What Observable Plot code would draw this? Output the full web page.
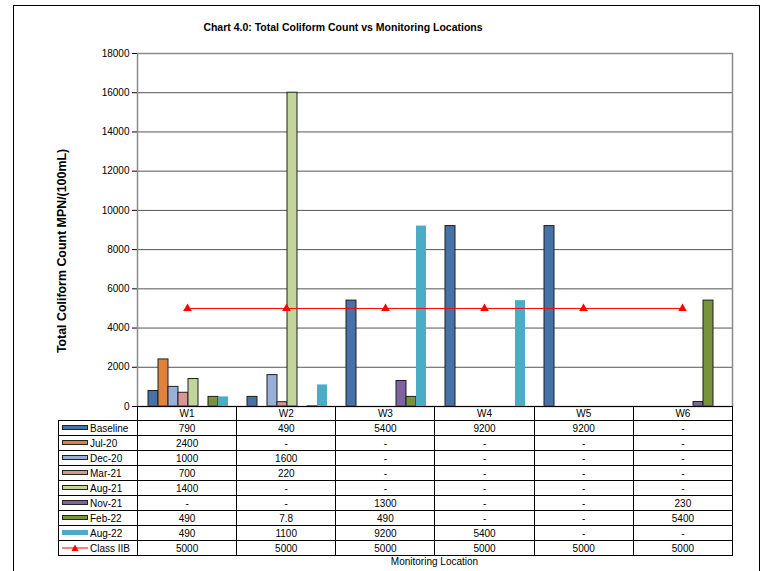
<!DOCTYPE html>
<html><head><meta charset="utf-8">
<script src="https://cdn.jsdelivr.net/npm/d3@7"></script>
<script src="https://cdn.jsdelivr.net/npm/@observablehq/plot@0.6"></script>
<style>
body{margin:0;background:#fff;font-family:"Liberation Sans",Arial,sans-serif;}
#wrap{position:relative;width:768px;height:571px;overflow:hidden;background:#fff;}
#border{position:absolute;left:13px;top:5px;width:747px;height:600px;border:1px solid #000;box-sizing:border-box;}
.layer{position:absolute;left:0;top:0;}
#title{position:absolute;left:0;width:686px;top:21px;text-align:center;font-weight:bold;font-size:10.5px;color:#000;}
#ylabel{position:absolute;left:62px;top:251px;transform:translate(-50%,-50%) rotate(-90deg);white-space:nowrap;font-weight:bold;font-size:12.4px;color:#000;}
#xlabel{position:absolute;left:137px;width:595px;top:556px;text-align:center;font-size:10px;color:#000;}
#tbl{position:absolute;left:58px;top:406px;border-collapse:collapse;table-layout:fixed;width:675px;font-size:10px;color:#000;}
#tbl td{border:1px solid #000;padding:0;text-align:center;height:14px;line-height:13px;white-space:nowrap;overflow:hidden;}
#tbl tr.hdr td{height:13px;}
#tbl tr.hdr td.blank{border:none;}
#tbl td.leg{text-align:left;padding-left:3px;}
.sw{display:inline-block;width:24px;height:3px;border:1px solid #222;vertical-align:middle;margin-right:2px;position:relative;top:-1px;}
</style></head><body>
<div id="wrap">
  <div id="border"></div>
  <div id="title">Chart 4.0: Total Coliform Count vs Monitoring Locations</div>
  <div id="ylabel">Total Coliform Count MPN/(100mL)</div>
  <div id="xlabel">Monitoring Location</div>
</div>
<script>
const locations = ["W1","W2","W3","W4","W5","W6"];
const seriesNames = ["Baseline","Jul-20","Dec-20","Mar-21","Aug-21","Nov-21","Feb-22","Aug-22"];
const baseline = [790, 490, 5400, 9200, 9200, null];
const jul20    = [2400, null, null, null, null, null];
const dec20    = [1000, 1600, null, null, null, null];
const mar21    = [700, 220, null, null, null, null];
const aug21    = [1400, 16000, null, null, null, null];
const nov21    = [null, null, 1300, null, null, 230];
const feb22    = [490, 7.8, 490, null, null, 5400];
const aug22    = [490, 1100, 9200, 5400, null, null];
const classIIB = [5000, 5000, 5000, 5000, 5000, 5000];
const classLabel = "Class IIB";
const yTicks = [0, 2000, 4000, 6000, 8000, 10000, 12000, 14000, 16000, 18000];
// table cells printed as "-" in the reference even though a bar is drawn
const tableDashCells = [["Aug-21", "W2"]];

const seriesValues = [baseline, jul20, dec20, mar21, aug21, nov21, feb22, aug22];
const seriesColors = ["#4672A8","#E0823C","#98AFD7","#D99694","#C2D69B","#8064A2","#77933C","#4BACC6"];
const outlined = ["Baseline","Jul-20","Dec-20","Mar-21","Aug-21","Nov-21","Feb-22"];

const rows = [];
seriesNames.forEach((s, si) => locations.forEach((loc, li) => {
  const v = seriesValues[si][li];
  if (v != null) rows.push({series: s, loc, value: v});
}));
const lineRows = locations.map((loc, i) => ({loc, value: classIIB[i]}));

const W = 768, H = 420;
const common = {width: W, height: H, marginTop: 53, marginBottom: 14, marginLeft: 137, marginRight: 36,
  style: {background: "transparent", fontFamily: "Liberation Sans, Arial, sans-serif", fontSize: "10px", color: "#000", overflow: "visible"}};

const bars = Plot.plot({
  ...common,
  fx: {domain: locations, padding: 0, axis: null, label: null},
  x: {domain: seriesNames, paddingInner: 0, paddingOuter: 0.86, axis: null},
  y: {domain: [0, 18000], axis: null},
  color: {domain: seriesNames, range: seriesColors},
  facet: {data: rows, x: "loc"},
  marks: [
    Plot.ruleY(yTicks.slice(1, -1), {stroke: "#555", strokeWidth: 1}),
    Plot.barY(rows, {filter: d => outlined.includes(d.series), x: "series", y: "value", fill: "series", stroke: "#1f1f1f", strokeWidth: 1}),
    Plot.barY(rows, {filter: d => !outlined.includes(d.series), x: "series", y: "value", fill: "series"})
  ]
});

const over = Plot.plot({
  ...common,
  x: {type: "point", domain: locations, padding: 0.5, axis: null},
  y: {domain: [0, 18000], ticks: yTicks, tickFormat: "d", tickSize: 5, tickPadding: 3, label: null, line: true},
  marks: [
    Plot.frame({stroke: "#8a8a8a", strokeWidth: 1.5}),
    Plot.ruleY([0], {stroke: "#000", strokeWidth: 1}),
    Plot.lineY(lineRows, {x: "loc", y: "value", stroke: "#ff0000", strokeWidth: 1}),
    Plot.dot(lineRows, {x: "loc", y: "value", symbol: "triangle", fill: "#ff0000", r: 3.2})
  ]
});

const wrap = document.getElementById("wrap");
[bars, over].forEach(p => { p.classList.add("layer"); wrap.appendChild(p); });

// data table under the chart
const tbl = document.createElement("table");
tbl.id = "tbl";
const colg = document.createElement("colgroup");
colg.innerHTML = '<col style="width:79px">' + locations.map(() => '<col>').join("");
tbl.appendChild(colg);
const hdr = document.createElement("tr");
hdr.className = "hdr";
hdr.innerHTML = '<td class="blank"></td>' + locations.map(l => `<td>${l}</td>`).join("");
tbl.appendChild(hdr);
const fmt = v => v == null ? "-" : String(v);
seriesNames.forEach((s, si) => {
  const tr = document.createElement("tr");
  const border = outlined.includes(s) ? "" : "border-color:transparent;";
  let html = `<td class="leg"><span class="sw" style="background:${seriesColors[si]};${border}"></span>${s}</td>`;
  locations.forEach((l, li) => {
    const dash = tableDashCells.some(([ss, ll]) => ss === s && ll === l);
    html += `<td>${dash ? "-" : fmt(seriesValues[si][li])}</td>`;
  });
  tr.innerHTML = html;
  tbl.appendChild(tr);
});
const trc = document.createElement("tr");
let chtml = `<td class="leg"><svg width="26" height="8" style="vertical-align:middle;margin-right:2px;position:relative;top:-1px"><line x1="0" x2="26" y1="4" y2="4" stroke="#ff0000" stroke-width="1"/><path d="M13,0.5 L16.5,7 L9.5,7 Z" fill="#ff0000"/></svg>${classLabel}</td>`;
locations.forEach((l, li) => { chtml += `<td>${fmt(classIIB[li])}</td>`; });
trc.innerHTML = chtml;
tbl.appendChild(trc);
wrap.appendChild(tbl);
</script>
</body></html>
